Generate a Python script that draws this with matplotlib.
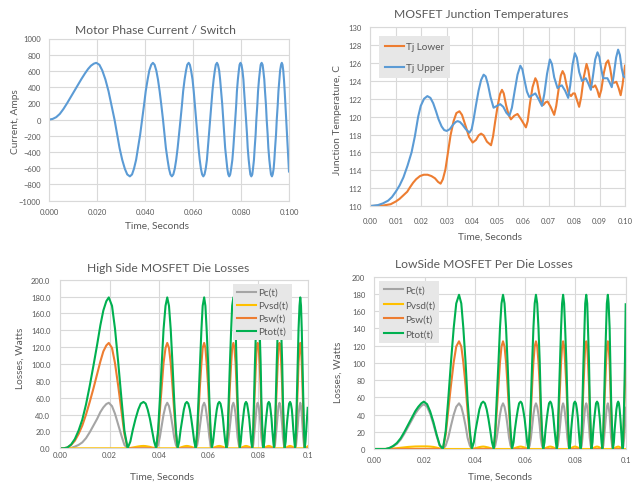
import matplotlib
matplotlib.use("Agg")
import matplotlib.pyplot as plt

plt.rcParams['font.family'] = ['Lato', 'DejaVu Sans']

# ---------------- data ----------------
# shared time grid (s) for the current and the loss panels
t_grid = [0.0, 0.0015, 0.003, 0.0045, 0.006, 0.0075, 0.009, 0.0105, 0.012, 0.0135, 0.015,
          0.0163, 0.0175, 0.0187, 0.0197, 0.0210, 0.0222, 0.0235, 0.0248, 0.0260, 0.0273,
          0.0284, 0.0294, 0.0305, 0.0316, 0.0326, 0.0337, 0.0346, 0.0354, 0.0363, 0.0371, 0.0380, 0.0388,
          0.0396, 0.0403, 0.0411, 0.0418, 0.0426, 0.0433, 0.0440, 0.0447, 0.0454, 0.0461, 0.0468, 0.0475,
          0.0481, 0.0487, 0.0494, 0.0500, 0.0506, 0.0512, 0.0518, 0.0524, 0.0530, 0.0536, 0.0542, 0.0548,
          0.0554, 0.0559, 0.0565, 0.0571, 0.0576, 0.0582, 0.0587, 0.0592, 0.0598, 0.0603, 0.0608, 0.0613,
          0.0618, 0.0623, 0.0628, 0.0633, 0.0638, 0.0643, 0.0648, 0.0653, 0.0658, 0.0662, 0.0667, 0.0672,
          0.0677, 0.0681, 0.0686, 0.0691, 0.0695, 0.0700, 0.0704, 0.0709, 0.0713, 0.0717, 0.0722, 0.0726,
          0.0730, 0.0734, 0.0739, 0.0743, 0.0747, 0.0751, 0.0755, 0.0759, 0.0764, 0.0768, 0.0772, 0.0776,
          0.0780, 0.0783, 0.0787, 0.0791, 0.0794, 0.0798, 0.0802, 0.0806, 0.0810, 0.0813, 0.0817, 0.0821,
          0.0825, 0.0828, 0.0832, 0.0836, 0.0839, 0.0843, 0.0847, 0.0850, 0.0854, 0.0857, 0.0861, 0.0864,
          0.0868, 0.0871, 0.0875, 0.0879, 0.0882, 0.0886, 0.0890, 0.0893, 0.0897, 0.0900, 0.0904, 0.0907,
          0.0911, 0.0914, 0.0918, 0.0922, 0.0925, 0.0929, 0.0932, 0.0936, 0.0939, 0.0942, 0.0946, 0.0949,
          0.0953, 0.0956, 0.0960, 0.0963, 0.0967, 0.0970, 0.0973, 0.0976, 0.0979, 0.0982, 0.0985, 0.0988,
          0.0991, 0.0994, 0.0997, 0.1000]

current = [0, 8, 30, 70, 130, 200, 275, 350, 425, 500, 570,
           625, 665, 690, 700, 676, 606, 495, 350, 181, 0,
           -181, -350, -495, -606, -676, -700, -676, -606, -495, -350, -181, 0,
           181, 350, 495, 606, 676, 700, 676, 606, 495, 350, 181, 0,
           -181, -350, -495, -606, -676, -700, -676, -606, -495, -350, -181, 0,
           181, 350, 495, 606, 676, 700, 676, 606, 495, 350, 181, 0,
           -181, -350, -495, -606, -676, -700, -676, -606, -495, -350, -181, 0,
           181, 350, 495, 606, 676, 700, 676, 606, 495, 350, 181, 0,
           -181, -350, -495, -606, -676, -700, -676, -606, -495, -350, -181, 0,
           181, 350, 495, 606, 676, 700, 676, 606, 495, 350, 181, 0,
           -181, -350, -495, -606, -676, -700, -676, -606, -495, -350, -181, 0,
           181, 350, 495, 606, 676, 700, 676, 606, 495, 350, 181, 0,
           -181, -350, -495, -606, -676, -700, -676, -606, -495, -350, -181, 0,
           181, 350, 495, 606, 676, 700, 676, 606, 495, 350, 181, 0,
           -181, -350, -495, -640]

# High side losses (W)
pc_hi = [0, 0, 0, 0.5, 2, 4, 7, 12, 19, 27, 35,
         43, 48.5, 52.5, 54, 50, 41, 28, 15, 4, 0,
         0, 0, 0, 0, 0, 0, 0, 0, 0, 0, 0, 0,
         4, 13, 27, 40, 50, 54, 50, 40, 27, 13, 4, 0,
         0, 0, 0, 0, 0, 0, 0, 0, 0, 0, 0, 0,
         4, 13, 27, 40, 50, 54, 50, 40, 27, 13, 4, 0,
         0, 0, 0, 0, 0, 0, 0, 0, 0, 0, 0, 0,
         4, 13, 27, 40, 50, 54, 50, 40, 27, 13, 4, 0,
         0, 0, 0, 0, 0, 0, 0, 0, 0, 0, 0, 0,
         4, 13, 27, 40, 50, 54, 50, 40, 27, 13, 4, 0,
         0, 0, 0, 0, 0, 0, 0, 0, 0, 0, 0, 0,
         4, 13, 27, 40, 50, 54, 50, 40, 27, 13, 4, 0,
         0, 0, 0, 0, 0, 0, 0, 0, 0, 0, 0, 0,
         4, 13, 27, 40, 50, 54, 50, 40, 27, 13, 4, 0,
         0, 0, 0, 0]
pvsd_hi = [0, 0, 0, 0, 0, 0, 0, 0, 0, 0, 0,
           0, 0, 0, 0, 0, 0, 0, 0, 0, 0,
           0.4, 1, 1.7, 2.2, 2.6, 2.8, 2.6, 2.2, 1.7, 1, 0.4, 0,
           0, 0, 0, 0, 0, 0, 0, 0, 0, 0, 0, 0,
           0.4, 1, 1.7, 2.2, 2.6, 2.8, 2.6, 2.2, 1.7, 1, 0.4, 0,
           0, 0, 0, 0, 0, 0, 0, 0, 0, 0, 0, 0,
           0.4, 1, 1.7, 2.2, 2.6, 2.8, 2.6, 2.2, 1.7, 1, 0.4, 0,
           0, 0, 0, 0, 0, 0, 0, 0, 0, 0, 0, 0,
           0.4, 1, 1.7, 2.2, 2.6, 2.8, 2.6, 2.2, 1.7, 1, 0.4, 0,
           0, 0, 0, 0, 0, 0, 0, 0, 0, 0, 0, 0,
           0.4, 1, 1.7, 2.2, 2.6, 2.8, 2.6, 2.2, 1.7, 1, 0.4, 0,
           0, 0, 0, 0, 0, 0, 0, 0, 0, 0, 0, 0,
           0.4, 1, 1.7, 2.2, 2.6, 2.8, 2.6, 2.2, 1.7, 1, 0.4, 0,
           0, 0, 0, 0, 0, 0, 0, 0, 0, 0, 0, 0,
           0.4, 1, 1.7, 2.3]
psw_hi = [0, 0, 1, 4, 9, 17, 27, 40, 55, 71, 88,
          103, 115, 122, 125, 119, 101, 74, 44, 17, 0,
          0, 0, 0, 0, 0, 0, 0, 0, 0, 0, 0, 0,
          17, 44, 74, 101, 119, 125, 119, 101, 74, 44, 17, 0,
          0, 0, 0, 0, 0, 0, 0, 0, 0, 0, 0, 0,
          17, 44, 74, 101, 119, 125, 119, 101, 74, 44, 17, 0,
          0, 0, 0, 0, 0, 0, 0, 0, 0, 0, 0, 0,
          17, 44, 74, 101, 119, 125, 119, 101, 74, 44, 17, 0,
          0, 0, 0, 0, 0, 0, 0, 0, 0, 0, 0, 0,
          17, 44, 74, 101, 119, 125, 119, 101, 74, 44, 17, 0,
          0, 0, 0, 0, 0, 0, 0, 0, 0, 0, 0, 0,
          17, 44, 74, 101, 119, 125, 119, 101, 74, 44, 17, 0,
          0, 0, 0, 0, 0, 0, 0, 0, 0, 0, 0, 0,
          17, 44, 74, 101, 119, 125, 119, 101, 74, 44, 17, 0,
          0, 0, 0, 0]
ptot_hi = [0, 0, 1, 4.5, 11, 21, 34, 52, 74, 98, 123,
           146, 163.5, 174.5, 179, 169, 142, 102, 59, 21, 0,
           8, 22, 35, 46, 53, 55, 53, 46, 35, 22, 8, 0,
           21, 57, 101, 141, 169, 179, 169, 141, 101, 57, 21, 0,
           8, 22, 35, 46, 53, 55, 53, 46, 35, 22, 8, 0,
           21, 57, 101, 141, 169, 179, 169, 141, 101, 57, 21, 0,
           8, 22, 35, 46, 53, 55, 53, 46, 35, 22, 8, 0,
           21, 57, 101, 141, 169, 179, 169, 141, 101, 57, 21, 0,
           8, 22, 35, 46, 53, 55, 53, 46, 35, 22, 8, 0,
           21, 57, 101, 141, 169, 179, 169, 141, 101, 57, 21, 0,
           8, 22, 35, 46, 53, 55, 53, 46, 35, 22, 8, 0,
           21, 57, 101, 141, 169, 179, 169, 141, 101, 57, 21, 0,
           8, 22, 35, 46, 53, 55, 53, 46, 35, 22, 8, 0,
           21, 57, 101, 141, 169, 179, 169, 141, 101, 57, 21, 0,
           8, 22, 35, 48]

# Low side losses (W)
pc_lo = [0, 0, 0, 0, 1, 3, 6, 11, 18, 26, 34,
         41, 46, 50, 52, 49, 41, 29, 15, 4, 0,
         4, 13, 27, 40, 49, 53, 49, 40, 27, 13, 4, 0,
         0, 0, 0, 0, 0, 0, 0, 0, 0, 0, 0, 0,
         4, 13, 27, 40, 49, 53, 49, 40, 27, 13, 4, 0,
         0, 0, 0, 0, 0, 0, 0, 0, 0, 0, 0, 0,
         4, 13, 27, 40, 49, 53, 49, 40, 27, 13, 4, 0,
         0, 0, 0, 0, 0, 0, 0, 0, 0, 0, 0, 0,
         4, 13, 27, 40, 49, 53, 49, 40, 27, 13, 4, 0,
         0, 0, 0, 0, 0, 0, 0, 0, 0, 0, 0, 0,
         4, 13, 27, 40, 49, 53, 49, 40, 27, 13, 4, 0,
         0, 0, 0, 0, 0, 0, 0, 0, 0, 0, 0, 0,
         4, 13, 27, 40, 49, 53, 49, 40, 27, 13, 4, 0,
         0, 0, 0, 0, 0, 0, 0, 0, 0, 0, 0, 0,
         4, 13, 27, 48]
pvsd_lo = [0, 0, 0, 0, 0.2, 0.5, 1, 1.5, 2, 2.4, 2.7,
           2.9, 3, 3, 3, 3, 2.8, 2.4, 1.6, 0.6, 0,
           0, 0, 0, 0, 0, 0, 0, 0, 0, 0, 0, 0,
           0.4, 1, 1.7, 2.2, 2.6, 2.8, 2.6, 2.2, 1.7, 1, 0.4, 0,
           0, 0, 0, 0, 0, 0, 0, 0, 0, 0, 0, 0,
           0.4, 1, 1.7, 2.2, 2.6, 2.8, 2.6, 2.2, 1.7, 1, 0.4, 0,
           0, 0, 0, 0, 0, 0, 0, 0, 0, 0, 0, 0,
           0.4, 1, 1.7, 2.2, 2.6, 2.8, 2.6, 2.2, 1.7, 1, 0.4, 0,
           0, 0, 0, 0, 0, 0, 0, 0, 0, 0, 0, 0,
           0.4, 1, 1.7, 2.2, 2.6, 2.8, 2.6, 2.2, 1.7, 1, 0.4, 0,
           0, 0, 0, 0, 0, 0, 0, 0, 0, 0, 0, 0,
           0.4, 1, 1.7, 2.2, 2.6, 2.8, 2.6, 2.2, 1.7, 1, 0.4, 0,
           0, 0, 0, 0, 0, 0, 0, 0, 0, 0, 0, 0,
           0.4, 1, 1.7, 2.2, 2.6, 2.8, 2.6, 2.2, 1.7, 1, 0.4, 0,
           0, 0, 0, 0]
psw_lo = [0, 0, 0, 0, 0, 0, 0, 0, 0, 0, 0,
          0, 0, 0, 0, 0, 0, 0, 0, 0, 0,
          17, 44, 74, 101, 119, 125, 119, 101, 74, 44, 17, 0,
          0, 0, 0, 0, 0, 0, 0, 0, 0, 0, 0, 0,
          17, 44, 74, 101, 119, 125, 119, 101, 74, 44, 17, 0,
          0, 0, 0, 0, 0, 0, 0, 0, 0, 0, 0, 0,
          17, 44, 74, 101, 119, 125, 119, 101, 74, 44, 17, 0,
          0, 0, 0, 0, 0, 0, 0, 0, 0, 0, 0, 0,
          17, 44, 74, 101, 119, 125, 119, 101, 74, 44, 17, 0,
          0, 0, 0, 0, 0, 0, 0, 0, 0, 0, 0, 0,
          17, 44, 74, 101, 119, 125, 119, 101, 74, 44, 17, 0,
          0, 0, 0, 0, 0, 0, 0, 0, 0, 0, 0, 0,
          17, 44, 74, 101, 119, 125, 119, 101, 74, 44, 17, 0,
          0, 0, 0, 0, 0, 0, 0, 0, 0, 0, 0, 0,
          17, 44, 74, 118]
ptot_lo = [0, 0, 0, 0, 1.2, 3.5, 7, 12.5, 20, 28.4, 36.7,
           43.9, 49, 53, 55, 52, 43.8, 31.4, 16.6, 4.6, 0,
           21, 57, 101, 141, 169, 179, 169, 141, 101, 57, 21, 0,
           8, 22, 35, 46, 53, 55, 53, 46, 35, 22, 8, 0,
           21, 57, 101, 141, 169, 179, 169, 141, 101, 57, 21, 0,
           8, 22, 35, 46, 53, 55, 53, 46, 35, 22, 8, 0,
           21, 57, 101, 141, 169, 179, 169, 141, 101, 57, 21, 0,
           8, 22, 35, 46, 53, 55, 53, 46, 35, 22, 8, 0,
           21, 57, 101, 141, 169, 179, 169, 141, 101, 57, 21, 0,
           8, 22, 35, 46, 53, 55, 53, 46, 35, 22, 8, 0,
           21, 57, 101, 141, 169, 179, 169, 141, 101, 57, 21, 0,
           8, 22, 35, 46, 53, 55, 53, 46, 35, 22, 8, 0,
           21, 57, 101, 141, 169, 179, 169, 141, 101, 57, 21, 0,
           8, 22, 35, 46, 53, 55, 53, 46, 35, 22, 8, 0,
           21, 57, 101, 168]

# Junction temperatures (C)
t_upper = [0.000, 0.003, 0.005, 0.007, 0.0085, 0.010, 0.0115, 0.013, 0.0146, 0.0162, 0.0175,
           0.0188, 0.0198, 0.0211, 0.0224, 0.0236, 0.0247, 0.0258, 0.0268, 0.0280, 0.0290,
           0.0300, 0.0312, 0.0325, 0.0335, 0.0343, 0.0352, 0.0362, 0.0375, 0.0389, 0.0398,
           0.0405, 0.0415, 0.0425, 0.0435, 0.0445, 0.0453, 0.0462, 0.0472, 0.0484, 0.0497,
           0.0510, 0.0522, 0.0535, 0.0546, 0.0556, 0.0567, 0.0578, 0.0589, 0.0597, 0.0606,
           0.0615, 0.0624, 0.0636, 0.0648, 0.0660, 0.0674, 0.0683, 0.0694, 0.0705, 0.0713,
           0.0722, 0.0735, 0.0744, 0.0752, 0.0765, 0.0777, 0.0785, 0.0794, 0.0803, 0.0811,
           0.0820, 0.0831, 0.0846, 0.0856, 0.0866, 0.0874, 0.0883, 0.0892, 0.0899, 0.0907,
           0.0914, 0.0931, 0.0940, 0.0948, 0.0955, 0.0965, 0.0973, 0.0980, 0.0987, 0.0994,
           0.1000]
tj_upper = [110.0, 110.1, 110.3, 110.6, 111.0, 111.6, 112.3, 113.2, 114.5, 116.0, 117.8,
            120.0, 121.2, 122.0, 122.3, 122.1, 121.5, 120.6, 119.7, 118.9, 118.5,
            118.4, 118.6, 119.1, 119.4, 119.5, 119.4, 119.1, 118.6, 118.2, 118.6,
            119.6, 121.3, 122.9, 124.1, 124.7, 124.5, 123.6, 122.2, 121.0, 121.2,
            121.4, 121.1, 120.4, 120.1, 121.0, 122.9, 124.7, 125.7, 125.3, 124.0,
            122.8, 122.2, 122.4, 122.6, 122.0, 121.2, 122.5, 124.8, 126.4, 125.9,
            124.4, 123.2, 123.4, 123.5, 122.9, 122.1, 123.5, 125.8, 127.1, 126.6,
            125.0, 124.0, 124.3, 123.7, 123.0, 124.5, 126.4, 127.2, 126.7, 125.3,
            124.3, 124.3, 123.8, 123.3, 124.5, 126.6, 127.5, 126.9, 125.4, 124.5,
            124.4]
t_lower = [0.000, 0.005, 0.008, 0.010, 0.0115, 0.013, 0.0145, 0.0156, 0.0168, 0.018, 0.0195,
           0.0210, 0.0225, 0.0240, 0.0254, 0.0266, 0.0276, 0.0285, 0.0295, 0.0305, 0.0315,
           0.0327, 0.0338, 0.0350, 0.0360, 0.0368, 0.0376, 0.0388, 0.0402, 0.0415, 0.0425,
           0.0435, 0.0445, 0.0458, 0.0474, 0.0482, 0.0490, 0.0500, 0.0509, 0.0517, 0.0524,
           0.0533, 0.0543, 0.0552, 0.0565, 0.0578, 0.0592, 0.0611, 0.0618, 0.0627, 0.0637,
           0.0648, 0.0655, 0.0663, 0.0671, 0.0679, 0.0688, 0.0696, 0.0708, 0.0722, 0.0730,
           0.0740, 0.0748, 0.0755, 0.0762, 0.0770, 0.0779, 0.0788, 0.0796, 0.0803, 0.0812,
           0.0820, 0.0828, 0.0838, 0.0849, 0.0856, 0.0866, 0.0875, 0.0883, 0.0891, 0.0899,
           0.0907, 0.0917, 0.0926, 0.0934, 0.0941, 0.0951, 0.0958, 0.0966, 0.0975, 0.0983,
           0.0990, 0.1000]
tj_lower = [110.0, 110.05, 110.2, 110.5, 110.8, 111.2, 111.6, 112.1, 112.6, 113.0, 113.35,
            113.5, 113.5, 113.35, 113.1, 112.7, 112.5, 113.0, 114.1, 116.0, 117.9,
            119.5, 120.4, 120.6, 120.2, 119.5, 118.8, 117.7, 117.1, 117.4, 117.9,
            118.1, 117.9, 117.2, 116.8, 117.8, 119.4, 121.2, 122.5, 123.0, 122.6,
            121.3, 120.2, 119.7, 120.1, 120.3, 119.7, 118.8, 119.5, 121.5, 123.3,
            124.3, 123.9, 122.6, 121.6, 121.3, 121.6, 121.7, 121.1, 120.2, 121.2,
            123.2, 124.6, 125.1, 124.7, 123.6, 122.6, 122.3, 122.6, 122.6, 121.8,
            121.1, 122.2, 124.4, 125.9, 125.2, 123.4, 123.3, 123.5, 123.0, 122.2,
            123.0, 124.9, 126.0, 126.3, 125.5, 123.8, 123.8, 123.9, 123.2, 122.4,
            123.5, 125.7]

# ---------------- styling ----------------
W, H = 634, 485
BLUE = '#5B9BD5'
ORANGE = '#ED7D31'
GREY = '#A5A5A5'
YELLOW = '#FFC000'
GREEN = '#00B050'
TXT = '#595959'
GRID = '#D9D9D9'
LW = 1.5

fig = plt.figure(figsize=(W / 100, H / 100), dpi=100)
fig.patch.set_facecolor('white')


def px_axes(x0, y0, x1, y1):
    return fig.add_axes([x0 / W, 1 - y1 / H, (x1 - x0) / W, (y1 - y0) / H])


def style(ax, xpad, ypad):
    ax.grid(True, color=GRID, linewidth=0.8)
    ax.set_axisbelow(True)
    for s in ax.spines.values():
        s.set_color(GRID)
        s.set_linewidth(0.8)
    ax.tick_params(length=0, labelsize=5.5, colors=TXT)
    ax.tick_params(axis='x', pad=xpad)
    ax.tick_params(axis='y', pad=ypad)


def ftext(x, y, s, size, rot=0):
    fig.text(x / W, 1 - y / H, s, ha='center', va='center', fontsize=size,
             color=TXT, rotation=rot)


def legend(ax, x0, y0, spacing, pad):
    leg = ax.legend(loc='upper left', bbox_to_anchor=(x0 / W, 1 - y0 / H),
                    bbox_transform=fig.transFigure, borderaxespad=0, fontsize=7.2,
                    frameon=True, fancybox=False, facecolor='#E7E7E7', edgecolor='none',
                    framealpha=1, handlelength=1.9, handletextpad=0.2,
                    labelspacing=spacing, borderpad=pad)
    for tx in leg.get_texts():
        tx.set_color(TXT)
    return leg


# Panel 1: current
ax1 = px_axes(49, 39.5, 289, 201.7)
ax1.plot(t_grid, current, color=BLUE, lw=LW)
ax1.set_xlim(0, 0.1)
ax1.set_ylim(-1000, 1000)
ax1.set_xticks([0, 0.02, 0.04, 0.06, 0.08, 0.1])
ax1.set_xticklabels(['0.000', '0.020', '0.040', '0.060', '0.080', '0.100'])
ax1.set_yticks(range(-1000, 1001, 200))
style(ax1, 5, 6)
ftext(155, 30, 'Motor Phase Current / Switch', 8.7)
ftext(16, 122, 'Current, Amps', 7.3, 90)
ftext(157, 226, 'Time, Seconds', 7.3)

# Panel 2: junction temperatures
ax2 = px_axes(370.3, 28.3, 625, 207)
ax2.plot(t_lower, tj_lower, color=ORANGE, lw=LW, label='Tj Lower')
ax2.plot(t_upper, tj_upper, color=BLUE, lw=LW, label='Tj Upper')
ax2.set_xlim(0, 0.1)
ax2.set_ylim(110, 130)
ax2.set_xticks([i / 100 for i in range(11)])
ax2.set_xticklabels(['0.00', '0.01', '0.02', '0.03', '0.04', '0.05', '0.06',
                     '0.07', '0.08', '0.09', '0.10'])
ax2.set_yticks(range(110, 131, 2))
style(ax2, 8, 6.5)
ftext(481, 15, 'MOSFET Junction Temperatures', 8.7)
ftext(337, 120, 'Junction Temperature, C', 7.3, 90)
ftext(490, 237, 'Time, Seconds', 7.3)
legend(ax2, 378.7, 37.3, 1.2, 0.6)

# Panel 3: high side losses
ax3 = px_axes(60, 280.7, 307.7, 449.3)
ax3.plot(t_grid, pc_hi, color=GREY, lw=LW, label='Pc(t)')
ax3.plot(t_grid, pvsd_hi, color=YELLOW, lw=LW, label='Pvsd(t)')
ax3.plot(t_grid, psw_hi, color=ORANGE, lw=LW, label='Psw(t)')
ax3.plot(t_grid, ptot_hi, color=GREEN, lw=LW, label='Ptot(t)')
ax3.set_xlim(0, 0.1)
ax3.set_ylim(0, 200)
ax3.set_xticks([0, 0.02, 0.04, 0.06, 0.08, 0.1])
ax3.set_xticklabels(['0.00', '0.02', '0.04', '0.06', '0.08', '0.1'])
ax3.set_yticks(range(0, 201, 20))
ax3.set_yticklabels(['%.1f' % v for v in range(0, 201, 20)])
style(ax3, 2, 7)
ftext(168, 268, 'High Side MOSFET Die Losses', 8.7)
ftext(20, 358, 'Losses, Watts', 7.3, 90)
ftext(162, 477, 'Time, Seconds', 7.3)
legend(ax3, 233, 285, 0.4, 0.4)

# Panel 4: low side losses
ax4 = px_axes(374.3, 277.7, 625.7, 450)
ax4.plot(t_grid, pc_lo, color=GREY, lw=LW, label='Pc(t)')
ax4.plot(t_grid, pvsd_lo, color=YELLOW, lw=LW, label='Pvsd(t)')
ax4.plot(t_grid, psw_lo, color=ORANGE, lw=LW, label='Psw(t)')
ax4.plot(t_grid, ptot_lo, color=GREEN, lw=LW, label='Ptot(t)')
ax4.set_xlim(0, 0.1)
ax4.set_ylim(0, 200)
ax4.set_xticks([0, 0.02, 0.04, 0.06, 0.08, 0.1])
ax4.set_xticklabels(['0.00', '0.02', '0.04', '0.06', '0.08', '0.1'])
ax4.set_yticks(range(0, 201, 20))
style(ax4, 5, 6.5)
ftext(484, 265, 'LowSide MOSFET Per Die Losses', 8.7)
ftext(338, 372, 'Losses, Watts', 7.3, 90)
ftext(500, 477, 'Time, Seconds', 7.3)
legend(ax4, 379.3, 282.3, 0.55, 0.45)

fig.savefig('out.png', dpi=100)
